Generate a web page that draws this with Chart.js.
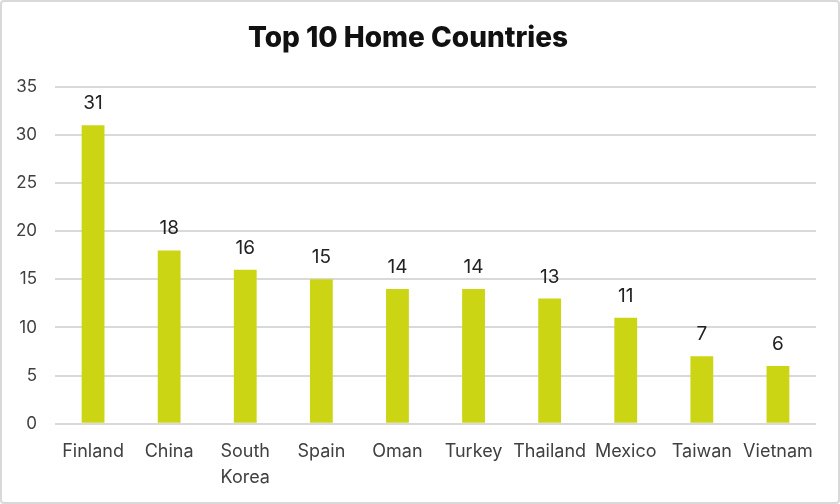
<!DOCTYPE html>
<html>
<head>
<meta charset="utf-8">
<script src="https://cdn.jsdelivr.net/npm/chart.js@4"></script>
<style>
  html, body { margin: 0; padding: 0; background: #fff; }
  #wrap { position: relative; width: 840px; height: 504px; }
  #frame {
    position: absolute; left: 0; top: 0; width: 840px; height: 504px;
    box-sizing: border-box; border: 2px solid #d9d9d9; border-radius: 4px;
    pointer-events: none;
  }
</style>
</head>
<body>
<div id="wrap">
  <canvas id="chart" width="840" height="504"></canvas>
  <div id="frame"></div>
</div>
<script>
const countries = ['Finland', 'China', ['South', 'Korea'], 'Spain', 'Oman', 'Turkey', 'Thailand', 'Mexico', 'Taiwan', 'Vietnam'];
const students = [31, 18, 16, 15, 14, 14, 13, 11, 7, 6];
const yTicks = [0, 5, 10, 15, 20, 25, 30, 35];

const fontFamily = 'Inter, "Liberation Sans", sans-serif';

// values above the bars (no datalabels plugin offline)
const barValues = {
  id: 'barValues',
  afterDatasetsDraw(chart) {
    const ctx = chart.ctx;
    const meta = chart.getDatasetMeta(0);
    ctx.save();
    ctx.font = '19px ' + fontFamily;
    ctx.fillStyle = '#222222';
    ctx.textAlign = 'center';
    ctx.textBaseline = 'alphabetic';
    meta.data.forEach((bar, i) => {
      ctx.fillText(String(students[i]), bar.x, bar.y - 16);
    });
    ctx.restore();
  }
};

new Chart(document.getElementById('chart').getContext('2d'), {
  type: 'bar',
  data: {
    labels: countries,
    datasets: [{
      label: 'Students',
      data: students,
      backgroundColor: '#ccd513',
      categoryPercentage: 1,
      barPercentage: 0.3
    }]
  },
  options: {
    responsive: false,
    animation: false,
    layout: { padding: { top: 5, right: 24, bottom: 6, left: 0 } },
    plugins: {
      legend: { display: false },
      tooltip: { enabled: false },
      title: {
        display: true,
        text: 'Top 10 Home Countries',
        color: '#111111',
        font: { family: fontFamily, size: 28, weight: 800, lineHeight: 1.2 },
        padding: { top: 17, bottom: 31 }
      }
    },
    scales: {
      y: {
        min: 0,
        max: 35,
        afterBuildTicks(scale) {
          scale.ticks = yTicks.map(v => ({ value: v }));
        },
        afterFit(scale) { scale.width = 55; },
        grid: { color: '#d9d9d9', lineWidth: 2, drawTicks: false },
        border: { display: false },
        ticks: {
          color: '#404040',
          padding: 18,
          font: { family: fontFamily, size: 17 }
        }
      },
      x: {
        grid: { display: false },
        border: { display: false },
        ticks: {
          color: '#404040',
          padding: 7,
          maxRotation: 0,
          autoSkip: false,
          font: { family: fontFamily, size: 18, lineHeight: 1.45 }
        }
      }
    }
  },
  plugins: [barValues]
});
</script>
</body>
</html>
